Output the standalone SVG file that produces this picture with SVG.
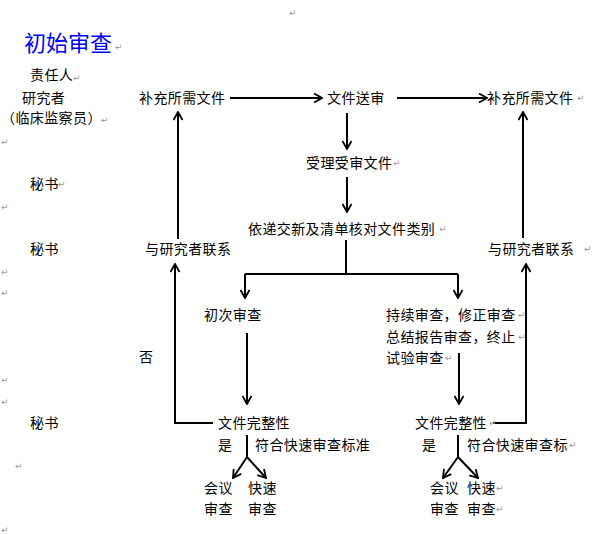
<svg xmlns="http://www.w3.org/2000/svg" width="600" height="534" viewBox="0 0 600 534">
<style>
.t{font-family:"Noto Sans CJK SC","Noto Sans",sans-serif;font-size:14px;letter-spacing:0.4px;fill:#000}
.title{font-family:"Noto Sans CJK SC","Noto Sans",sans-serif;font-size:22px;fill:#0000ff}
.pm{font-family:"DejaVu Sans",sans-serif;font-size:9px;fill:#999}
.c{fill:none;stroke:#000;stroke-width:2}
</style>
<defs>
<marker id="a" markerUnits="userSpaceOnUse" viewBox="0 0 10 10" refX="9" refY="5" markerWidth="10" markerHeight="11" orient="auto">
<path d="M1,0.5 L9,5 L1,9.5" fill="none" stroke="#000" stroke-width="1.8"/>
</marker>
</defs>
<rect width="600" height="534" fill="#fff"/>

<g id="title"><text class="title" x="24" y="51">初始审查</text></g>

<g id="roles">
<text class="t" x="30" y="80">责任人</text>
<text class="t" x="22" y="103">研究者</text>
<text class="t" x="1" y="123">（临床监察员）</text>
<text class="t" x="30" y="189">秘书</text>
<text class="t" x="30" y="254">秘书</text>
<text class="t" x="30" y="428">秘书</text>
</g>

<g id="n-supp-left"><text class="t" x="139" y="103">补充所需文件</text></g>
<g id="n-submit"><text class="t" x="327" y="103">文件送审</text></g>
<g id="n-supp-right"><text class="t" x="487" y="103">补充所需文件</text></g>
<g id="n-accept"><text class="t" x="306" y="168">受理受审文件</text></g>
<g id="n-check"><text class="t" x="248" y="234">依递交新及清单核对文件类别</text></g>
<g id="n-contact-left"><text class="t" x="145" y="254">与研究者联系</text></g>
<g id="n-contact-right"><text class="t" x="488" y="254">与研究者联系</text></g>
<g id="n-initial"><text class="t" x="204" y="320">初次审查</text></g>
<g id="n-continue">
<text class="t" x="386" y="320">持续审查，修正审查</text>
<text class="t" x="386" y="342">总结报告审查，终止</text>
<text class="t" x="386" y="363">试验审查</text>
</g>
<g id="n-complete-left"><text class="t" x="218" y="428">文件完整性</text></g>
<g id="n-complete-right"><text class="t" x="415" y="428">文件完整性</text></g>
<g id="labels">
<text class="t" x="139" y="362">否</text>
<text class="t" x="218" y="450">是</text>
<text class="t" x="255" y="450">符合快速审查标准</text>
<text class="t" x="422" y="450">是</text>
<text class="t" x="467" y="450">符合快速审查标</text>
</g>
<g id="n-meet-left"><text class="t" x="204" y="493">会议</text><text class="t" x="204" y="514">审查</text></g>
<g id="n-fast-left"><text class="t" x="248" y="493">快速</text><text class="t" x="248" y="514">审查</text></g>
<g id="n-meet-right"><text class="t" x="430" y="493">会议</text><text class="t" x="430" y="514">审查</text></g>
<g id="n-fast-right"><text class="t" x="467" y="493">快速</text><text class="t" x="467" y="514">审查</text></g>

<g id="connectors" class="c">
<path class="c" d="M230,98 H322" marker-end="url(#a)"/>
<path class="c" d="M397,98 H487" marker-end="url(#a)"/>
<path class="c" d="M347,113 V149" marker-end="url(#a)"/>
<path class="c" d="M347,177 V212" marker-end="url(#a)"/>
<path class="c" d="M346,240 V274 M245,274 H458"/>
<path class="c" d="M245,274 V298" marker-end="url(#a)"/>
<path class="c" d="M458,274 V298" marker-end="url(#a)"/>
<path class="c" d="M247,333 V404" marker-end="url(#a)"/>
<path class="c" d="M459,353 V404" marker-end="url(#a)"/>
<path class="c" d="M213,423 H175 V264" marker-end="url(#a)"/>
<path class="c" d="M178,239 V112" marker-end="url(#a)"/>
<path class="c" d="M493,423 H526 V264" marker-end="url(#a)"/>
<path class="c" d="M523,238 V112" marker-end="url(#a)"/>
<path class="c" d="M247,435 V457"/>
<path class="c" d="M247,457 L233,478" marker-end="url(#a)"/>
<path class="c" d="M247,457 L266,478" marker-end="url(#a)"/>
<path class="c" d="M458,435 V457"/>
<path class="c" d="M458,457 L443,478" marker-end="url(#a)"/>
<path class="c" d="M458,457 L478,478" marker-end="url(#a)"/>
</g>

<g id="para-marks">
<text class="pm" x="289" y="16">↵</text>
<text class="pm" x="115" y="50">↵</text>
<text class="pm" x="73" y="81">↵</text>
<text class="pm" x="101" y="123">↵</text>
<text class="pm" x="1" y="145">↵</text>
<text class="pm" x="58" y="187">↵</text>
<text class="pm" x="1" y="210">↵</text>
<text class="pm" x="1" y="275">↵</text>
<text class="pm" x="1" y="296">↵</text>
<text class="pm" x="1" y="383">↵</text>
<text class="pm" x="1" y="405">↵</text>
<text class="pm" x="15" y="469">↵</text>
<text class="pm" x="1" y="533">↵</text>
<text class="pm" x="577" y="101">↵</text>
<text class="pm" x="393" y="166">↵</text>
<text class="pm" x="439" y="232">↵</text>
<text class="pm" x="584" y="252">↵</text>
<text class="pm" x="518" y="318">↵</text>
<text class="pm" x="518" y="340">↵</text>
<text class="pm" x="445" y="361">↵</text>
<text class="pm" x="489" y="426">↵</text>
<text class="pm" x="569" y="448">↵</text>
<text class="pm" x="496" y="491">↵</text>
<text class="pm" x="496" y="512">↵</text>
</g>
</svg>
